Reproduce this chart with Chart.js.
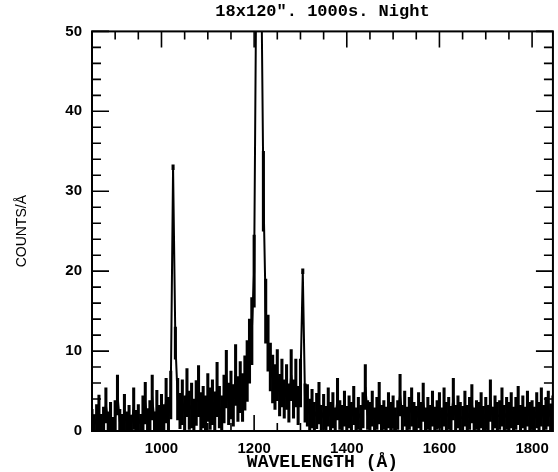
<!DOCTYPE html>
<html>
<head>
<meta charset="utf-8">
<script src="https://cdn.jsdelivr.net/npm/chart.js@4.4.1/dist/chart.umd.min.js"></script>
<style>
  html, body { margin: 0; padding: 0; background: #fff; }
  #wrap { width: 558px; height: 472px; }
</style>
</head>
<body>
<div id="wrap"><canvas id="myChart" width="558" height="472"></canvas></div>
<script>
// spectrum binned every 5 A starting at 850 A
const startWave = 850;
const binWidth = 5;

const counts = [
  1.2, 0.8, 1.5, 2.0, 0.9, 1.4, 3.2, 1.0, 1.6, 0.7,
  1.8, 4.5, 1.2, 0.9, 2.2, 1.0, 1.4, 0.8, 2.8, 1.1,
  1.5, 0.9, 2.0, 3.5, 1.2, 1.8, 4.2, 1.0, 2.5, 1.4,
  2.2, 1.5, 3.8, 2.0, 4.5, 33.0, 11.0, 4.0, 2.5, 3.6,
  2.2, 4.8, 2.6, 3.2, 2.0, 3.5, 5.0, 2.4, 3.0, 2.2,
  4.2, 2.8, 3.6, 2.5, 5.2, 3.0, 2.2, 4.0, 6.5, 3.4,
  4.5, 3.2, 7.0, 4.0, 5.5, 4.2, 6.0, 7.5, 10.0, 12.5,
  20.0, 60.0, 60.0, 60.0, 30.0, 15.0, 11.0, 8.0, 6.5, 5.5,
  7.0, 4.5, 6.0, 4.0, 5.5, 3.5, 7.0, 4.0, 6.0, 3.2,
  6.0, 20.0, 3.5, 3.2, 2.0, 2.8, 1.8, 2.5, 3.5, 1.6,
  2.4, 1.5, 3.0, 1.8, 2.6, 1.4, 4.0, 2.0, 1.6, 2.8,
  1.5, 2.4, 1.8, 3.2, 1.4, 2.2, 1.6, 2.6, 5.5, 2.0,
  1.8, 2.8, 1.4, 2.2, 3.5, 1.6, 2.0, 1.5, 2.6, 1.8,
  2.4, 1.4, 2.0, 4.5, 1.6, 2.8, 1.5, 2.2, 3.0, 1.8,
  1.5, 2.6, 1.8, 3.6, 1.4, 2.2, 1.6, 2.8, 1.5, 2.0,
  2.6, 1.4, 3.0, 1.8, 2.2, 1.5, 4.0, 1.6, 2.4, 1.8,
  1.5, 2.8, 1.6, 2.2, 3.4, 1.4, 2.0, 1.8, 2.6, 1.5,
  2.2, 1.6, 3.8, 1.5, 2.4, 1.8, 2.0, 3.0, 1.6, 2.2,
  1.8, 2.6, 1.5, 2.2, 3.2, 1.6, 2.4, 1.5, 2.8, 1.8,
  2.0, 1.5, 2.6, 1.8, 3.0, 1.6, 2.2, 2.8, 1.7, 2.4
];

const errors = [
  1.5, 1.2, 1.8, 2.5, 1.2, 1.6, 2.2, 1.4, 2.0, 1.0,
  2.0, 2.5, 1.5, 1.2, 2.4, 1.4, 1.8, 1.2, 2.6, 1.5,
  1.8, 1.2, 2.4, 2.6, 1.6, 2.0, 2.8, 1.4, 2.6, 1.8,
  2.4, 1.8, 2.8, 2.2, 3.0, 0.3, 2.0, 2.6, 2.2, 2.8,
  2.2, 3.0, 2.4, 2.8, 2.0, 2.8, 3.2, 2.4, 2.6, 2.2,
  3.0, 2.6, 2.8, 2.4, 3.4, 2.6, 2.2, 3.0, 3.6, 2.6,
  3.0, 2.6, 3.8, 2.8, 3.2, 3.0, 3.4, 3.8, 4.0, 4.2,
  4.5, 5.0, 5.0, 5.0, 5.0, 4.0, 3.5, 3.0, 3.0, 2.8,
  3.2, 2.6, 3.0, 2.4, 2.8, 2.4, 3.2, 2.4, 3.0, 2.4,
  3.0, 0.3, 2.4, 2.6, 2.0, 2.4, 1.8, 2.2, 2.6, 1.6,
  2.2, 1.6, 2.4, 1.8, 2.2, 1.5, 2.6, 1.8, 1.6, 2.2,
  1.6, 2.0, 1.8, 2.4, 1.5, 2.0, 1.6, 2.2, 2.8, 1.8,
  1.8, 2.2, 1.5, 2.0, 2.6, 1.6, 1.8, 1.5, 2.2, 1.8,
  2.0, 1.5, 1.8, 2.6, 1.6, 2.2, 1.5, 2.0, 2.4, 1.8,
  1.6, 2.2, 1.8, 2.4, 1.5, 2.0, 1.6, 2.2, 1.5, 1.8,
  2.2, 1.5, 2.4, 1.8, 2.0, 1.6, 2.6, 1.6, 2.0, 1.8,
  1.6, 2.2, 1.6, 2.0, 2.4, 1.5, 1.8, 1.8, 2.2, 1.6,
  2.0, 1.6, 2.6, 1.5, 2.0, 1.8, 1.8, 2.4, 1.6, 2.0,
  1.8, 2.2, 1.5, 2.0, 2.4, 1.6, 2.0, 1.5, 2.2, 1.8,
  1.8, 1.5, 2.2, 1.8, 2.4, 1.6, 2.0, 2.2, 1.7, 2.0
];

const xTicks = [1000, 1200, 1400, 1600, 1800];
const yTicks = [0, 10, 20, 30, 40, 50];

const linePoints = counts.map((c, i) => ({ x: startWave + i * binWidth, y: c }));
const errBars = counts.map((c, i) => ({
  x: startWave + i * binWidth,
  y: [Math.max(0, c - errors[i]), c + errors[i]]
}));

// frame with inward ticks on all four sides, like the old plot
const frameTicks = {
  id: 'frameTicks',
  afterDatasetsDraw(chart) {
    const { ctx, chartArea: a, scales: { x, y } } = chart;
    ctx.save();
    ctx.strokeStyle = '#000';
    ctx.lineWidth = 2;
    ctx.strokeRect(a.left, a.top, a.right - a.left, a.bottom - a.top);
    ctx.lineWidth = 1.6;
    ctx.beginPath();
    for (let w = 850; w <= x.max; w += 50) {
      const px = x.getPixelForValue(w);
      const len = w % 200 === 0 ? 16 : 8;
      ctx.moveTo(px, a.bottom); ctx.lineTo(px, a.bottom - len);
      ctx.moveTo(px, a.top); ctx.lineTo(px, a.top + len);
    }
    for (let v = 0; v <= 50; v += 2) {
      const py = y.getPixelForValue(v);
      const len = v % 10 === 0 ? 17 : 9;
      ctx.moveTo(a.left, py); ctx.lineTo(a.left + len, py);
      ctx.moveTo(a.right, py); ctx.lineTo(a.right - len, py);
    }
    ctx.stroke();
    ctx.restore();
  }
};

var ctx = document.getElementById('myChart').getContext('2d');

const myChart = new Chart(ctx, {
  data: {
    datasets: [{
      type: 'line',
      label: 'counts',
      data: linePoints,
      borderColor: '#000',
      borderWidth: 2,
      pointRadius: 0,
      tension: 0
    }, {
      type: 'bar',
      label: 'errors',
      data: errBars,
      backgroundColor: '#000',
      barThickness: 2.4,
      grouped: false
    }]
  },
  plugins: [frameTicks],
  options: {
    responsive: false,
    animation: false,
    layout: { padding: { left: 0, right: 4, top: 0, bottom: 0 } },
    plugins: {
      legend: { display: false },
      tooltip: { enabled: false },
      title: {
        display: true,
        text: '18x120". 1000s. Night',
        fullSize: false,
        color: '#000',
        font: { family: 'Liberation Mono', size: 17, weight: 'bold' },
        padding: { top: 2, bottom: 9 }
      }
    },
    scales: {
      x: {
        type: 'linear',
        min: 850,
        max: 1845,
        offset: false,
        grid: { display: false, offset: false, drawTicks: false },
        border: { display: false },
        afterBuildTicks: (s) => { s.ticks = xTicks.map(v => ({ value: v })); },
        afterFit: (s) => { s.height = 41; },
        ticks: {
          color: '#000',
          padding: 9,
          maxRotation: 0,
          callback: (v) => String(v),
          font: { family: 'Liberation Sans', size: 15, weight: 'bold' }
        },
        title: {
          display: true,
          text: 'WAVELENGTH (Å)',
          color: '#000',
          padding: { top: 0, bottom: -1 },
          font: { family: 'Liberation Mono', size: 18, weight: 'bold' }
        }
      },
      y: {
        min: 0,
        max: 50,
        grid: { display: false, drawTicks: false },
        border: { display: false },
        afterBuildTicks: (s) => { s.ticks = yTicks.map(v => ({ value: v })); },
        afterFit: (s) => { s.width = 92; },
        ticks: {
          color: '#000',
          padding: 10,
          font: { family: 'Liberation Sans', size: 15, weight: 'bold' }
        },
        title: {
          display: true,
          text: 'COUNTS/Å',
          color: '#000',
          padding: { top: 14, bottom: 0 },
          font: { family: 'Liberation Sans', size: 14 }
        }
      }
    }
  }
});
</script>
</body>
</html>
